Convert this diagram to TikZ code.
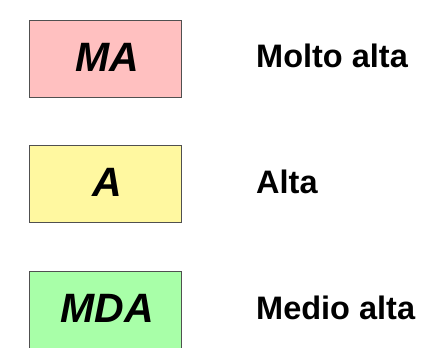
\documentclass[tikz,border=0pt]{standalone}
\usepackage{fontspec}
\setmainfont{Liberation Sans}
\definecolor{mapink}{RGB}{255,192,192}
\definecolor{ayellow}{RGB}{255,248,160}
\definecolor{mdagreen}{RGB}{168,255,168}
\definecolor{boxline}{RGB}{80,80,80}
\tikzset{
  levelbox/.style={draw=boxline, line width=0.9pt, minimum width=152pt, minimum height=77pt,
    inner sep=0pt, font=\fontsize{41}{41}\selectfont\bfseries\itshape},
  levellabel/.style={anchor=base west, inner sep=0pt, font=\fontsize{32.5}{32.5}\selectfont\bfseries}
}
\begin{document}
\begin{tikzpicture}[x=1pt,y=-1pt]
\useasboundingbox (0,0) rectangle (434,348);
\node[levelbox, fill=mapink] (ma) at (105,58.5) {\hspace{5pt}MA\raisebox{0pt}[0pt][3pt]{}};
\node[levelbox, fill=ayellow] (a) at (105,184) {\hspace{5pt}A\raisebox{0pt}[0pt][3pt]{}};
\node[levelbox, fill=mdagreen] (mda) at (105,309.5) {\hspace{5pt}MDA\raisebox{0pt}[0pt][3pt]{}};
\node[levellabel] (lma) at (256,67.3) {Molto alta};
\node[levellabel] (la) at (256,193) {Alta};
\node[levellabel] (lmda) at (256,319.3) {Medio alta};
\end{tikzpicture}
\end{document}
